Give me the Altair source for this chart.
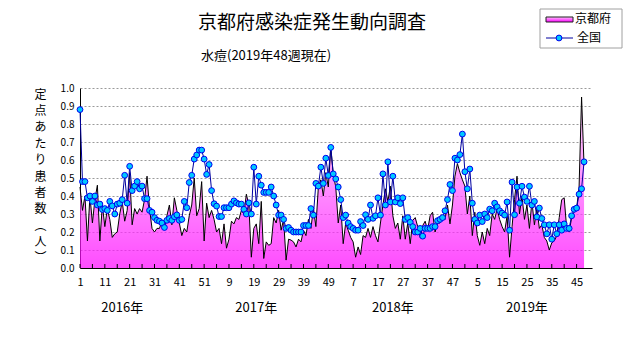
import json
import altair as alt
import pandas as pd

# ---------------- data ----------------
years = [2016, 2017, 2018, 2019]
weeks_in_year = [52, 52, 52, 48]
year_labels = ["2016年", "2017年", "2018年", "2019年"]

# 京都府 (per-sentinel reports), weekly from 2016w1 to 2019w48
kyoto = [
    0.45, 0.32, 0.40, 0.15, 0.40, 0.25, 0.38, 0.46, 0.15, 0.35,
    0.23, 0.33, 0.27, 0.17, 0.19, 0.20, 0.30, 0.37, 0.26, 0.32,
    0.53, 0.24, 0.33, 0.30, 0.33, 0.31, 0.38, 0.51, 0.33, 0.22,
    0.20, 0.22, 0.22, 0.26, 0.23, 0.29, 0.35, 0.24, 0.39, 0.32,
    0.25, 0.18, 0.22, 0.20, 0.29, 0.35, 0.50, 0.29, 0.33, 0.48,
    0.15, 0.36, 0.28, 0.32, 0.27, 0.20, 0.22, 0.135, 0.245, 0.11,
    0.16, 0.26, 0.245, 0.28, 0.27, 0.32, 0.30, 0.41, 0.35, 0.06,
    0.22, 0.245, 0.135, 0.37, 0.053, 0.145, 0.126, 0.135, 0.28, 0.25,
    0.32, 0.21, 0.27, 0.044, 0.16, 0.155, 0.145, 0.117, 0.16, 0.145,
    0.21, 0.18, 0.27, 0.22, 0.33, 0.23, 0.45, 0.49, 0.40, 0.53,
    0.45, 0.67, 0.52, 0.45, 0.25, 0.35, 0.135, 0.25, 0.21, 0.17,
    0.145, 0.06, 0.117, 0.075, 0.18, 0.17, 0.22, 0.17, 0.23, 0.18,
    0.145, 0.25, 0.35, 0.44, 0.37, 0.455, 0.29, 0.22, 0.25, 0.16,
    0.29, 0.16, 0.25, 0.135, 0.265, 0.28, 0.23, 0.17, 0.235, 0.26,
    0.21, 0.29, 0.31, 0.20, 0.25, 0.25, 0.29, 0.27, 0.35, 0.245,
    0.35, 0.51, 0.58, 0.53, 0.49, 0.455, 0.30, 0.40, 0.18, 0.31,
    0.18, 0.126, 0.20, 0.135, 0.22, 0.18, 0.30, 0.27, 0.33, 0.27,
    0.23, 0.20, 0.29, 0.06, 0.23, 0.38, 0.51, 0.30, 0.40, 0.27,
    0.35, 0.22, 0.37, 0.24, 0.33, 0.22, 0.24, 0.17, 0.15, 0.10,
    0.14, 0.15, 0.18, 0.28, 0.38, 0.39, 0.22, 0.20, 0.28, 0.31,
    0.33, 0.45, 0.95, 0.57,
]

# 全国
national = [
    0.88, 0.48, 0.48, 0.39, 0.40, 0.37, 0.40, 0.35, 0.355, 0.325,
    0.33, 0.32, 0.37, 0.345, 0.30, 0.355, 0.36, 0.38, 0.515, 0.36,
    0.565, 0.43, 0.455, 0.48, 0.44, 0.455, 0.385, 0.385, 0.32, 0.31,
    0.28, 0.265, 0.26, 0.25, 0.225, 0.265, 0.275, 0.265, 0.285, 0.295,
    0.265, 0.27, 0.37, 0.335, 0.475, 0.515, 0.605, 0.628, 0.655, 0.655,
    0.605, 0.52, 0.575, 0.43, 0.357, 0.344, 0.286, 0.286, 0.335, 0.335,
    0.335, 0.355, 0.373, 0.362, 0.355, 0.355, 0.326, 0.30, 0.362, 0.30,
    0.56, 0.355, 0.51, 0.46, 0.42, 0.42, 0.42, 0.45, 0.40, 0.35,
    0.294, 0.294, 0.27, 0.22, 0.225, 0.21, 0.20, 0.20, 0.20, 0.20,
    0.236, 0.236, 0.236, 0.33, 0.294, 0.47, 0.455, 0.56, 0.47, 0.61,
    0.514, 0.67, 0.523, 0.495, 0.45, 0.38, 0.28, 0.294, 0.25, 0.23,
    0.22, 0.21, 0.21, 0.258, 0.236, 0.296, 0.27, 0.35, 0.276, 0.29,
    0.39, 0.294, 0.523, 0.35, 0.59, 0.367, 0.51, 0.367, 0.39, 0.358,
    0.39, 0.27, 0.28, 0.254, 0.23, 0.20, 0.20, 0.22, 0.177, 0.22,
    0.22, 0.22, 0.23, 0.23, 0.263, 0.27, 0.28, 0.318, 0.38, 0.464,
    0.43, 0.61, 0.60, 0.63, 0.744, 0.535, 0.44, 0.55, 0.36, 0.27,
    0.25, 0.294, 0.258, 0.30, 0.28, 0.327, 0.318, 0.36, 0.34, 0.318,
    0.305, 0.294, 0.367, 0.21, 0.477, 0.296, 0.45, 0.36, 0.454, 0.394,
    0.37, 0.454, 0.35, 0.37, 0.284, 0.333, 0.275, 0.24, 0.19, 0.24,
    0.16, 0.24, 0.19, 0.24, 0.21, 0.245, 0.22, 0.22, 0.29, 0.326,
    0.333, 0.41, 0.44, 0.59,
]

week_no, year_of = [], []
for yr, n in zip(years, weeks_in_year):
    for w in range(1, n + 1):
        week_no.append(w)
        year_of.append(yr)
idx = list(range(len(week_no)))
assert len(kyoto) == len(idx) == len(national)

df = pd.DataFrame({"i": idx, "week": week_no, "year": year_of,
                   "kyoto": kyoto, "national": national})

tick_idx = list(range(0, len(idx), 10))
tick_labels = [str(week_no[k]) for k in tick_idx]
minor_ticks = pd.DataFrame({"i": list(range(0, len(idx), 5))})

year_start = [sum(weeks_in_year[:k]) for k in range(len(years))]
year_df = pd.DataFrame({"i": [s + o for s, o in zip(year_start, [17, 19, 22, 24])],
                        "label": year_labels})

FONT = "Noto Sans CJK JP"
W, H = 512, 180
xscale = alt.Scale(domain=[0, 206.2], nice=False, zero=False)
yscale = alt.Scale(domain=[0, 1], nice=False)

xaxis = alt.Axis(values=tick_idx,
                 labelExpr=f"{json.dumps(tick_labels)}[round(datum.value/10)]",
                 ticks=False, grid=False, domainColor="black", domainWidth=1,
                 labelFont=FONT, labelFontSize=11, labelColor="black",
                 labelPadding=8, labelFlush=False, labelOverlap=False, title=None)

ytitle = ["定", "点", "あ", "た", "り", "患", "者", "数", "︵", "人", "︶"]
yaxis = alt.Axis(values=[round(v * 0.1, 1) for v in range(11)], format=".1f",
                 grid=True, gridDash=[2, 2], gridColor="#9a9a9a", gridWidth=1,
                 ticks=False, domainColor="black", domainWidth=1,
                 labelFont=FONT, labelFontSize=10, labelColor="black", labelPadding=6,
                 title=ytitle, titleAngle=0, titleX=-40, titleY=1,
                 titleAlign="center", titleBaseline="top",
                 titleFont=FONT, titleFontSize=12, titleFontWeight="normal",
                 titleLineHeight=16.4, titleColor="black")

X = alt.X("i:Q", scale=xscale, axis=xaxis)

grad = alt.Gradient(gradient="linear",
                    stops=[alt.GradientStop(color="#ffc4ff", offset=0),
                           alt.GradientStop(color="#ff00ff", offset=1)],
                    x1=1, x2=1, y1=0, y2=1)

base = alt.Chart(df)

area = base.mark_area(color=grad, line={"color": "black", "strokeWidth": 1},
                      interpolate="linear").encode(
    x=X, y=alt.Y("kyoto:Q", scale=yscale, axis=yaxis))

nat_line = base.mark_line(color="#0000a0", strokeWidth=1).encode(
    x=X, y=alt.Y("national:Q", scale=yscale, axis=yaxis))

nat_pts = base.mark_point(shape="circle", filled=True, fill="#00c8ff",
                          stroke="#0000ee", strokeWidth=1, size=34,
                          opacity=1, fillOpacity=1).encode(
    x=X, y=alt.Y("national:Q", scale=yscale, axis=yaxis))

ticks = alt.Chart(minor_ticks).mark_rule(color="black", strokeWidth=1).encode(
    x=X, y=alt.value(H), y2=alt.value(H - 4))

year_text = alt.Chart(year_df).mark_text(font=FONT, fontSize=13, color="black",
                                         align="center", baseline="middle").encode(
    x=X, y=alt.value(220), text="label:N")

one = pd.DataFrame({"k": [0]})
OX, OY = 80, 88  # view origin in page pixels

title = alt.Chart(one).mark_text(text="京都府感染症発生動向調査", font=FONT, fontSize=19,
                                 color="black", align="center", baseline="middle").encode(
    x=alt.value(312 - OX), y=alt.value(23 - OY))
subtitle = alt.Chart(one).mark_text(text="水痘(2019年48週現在)", font=FONT, fontSize=13,
                                    color="black", align="left", baseline="middle").encode(
    x=alt.value(201 - OX), y=alt.value(56 - OY))

leg_box = alt.Chart(one).mark_rect(fill="white", stroke="#a0a0a0", strokeWidth=1).encode(
    x=alt.value(540 - OX), x2=alt.value(622 - OX),
    y=alt.value(9 - OY), y2=alt.value(48 - OY))
leg_sw = alt.Chart(one).mark_rect(color=grad, stroke="#202020", strokeWidth=1).encode(
    x=alt.value(546 - OX), x2=alt.value(573 - OX),
    y=alt.value(17 - OY), y2=alt.value(22 - OY))
leg_t1 = alt.Chart(one).mark_text(text="京都府", font=FONT, fontSize=12, color="black",
                                  align="left", baseline="middle").encode(
    x=alt.value(575 - OX), y=alt.value(19 - OY))
leg_ln = alt.Chart(one).mark_rule(color="#0000a0", strokeWidth=1).encode(
    x=alt.value(546 - OX), x2=alt.value(573 - OX), y=alt.value(38 - OY))
leg_pt = alt.Chart(one).mark_point(shape="circle", filled=True, fill="#00c8ff",
                                   stroke="#0000ee", strokeWidth=1, size=34, opacity=1).encode(
    x=alt.value(559 - OX), y=alt.value(38 - OY))
leg_t2 = alt.Chart(one).mark_text(text="全国", font=FONT, fontSize=12, color="black",
                                  align="left", baseline="middle").encode(
    x=alt.value(577 - OX), y=alt.value(38 - OY))

chart = alt.layer(
    area, nat_line, nat_pts, ticks, year_text,
    title, subtitle, leg_box, leg_sw, leg_t1, leg_ln, leg_pt, leg_t2,
).properties(
    width=W, height=H, autosize="none",
    padding={"left": OX, "top": OY, "right": 631 - OX - W, "bottom": 347 - OY - H},
    background="white",
).configure_view(strokeWidth=0)

chart.save("out.html", embed_options={"renderer": "svg", "actions": False})
